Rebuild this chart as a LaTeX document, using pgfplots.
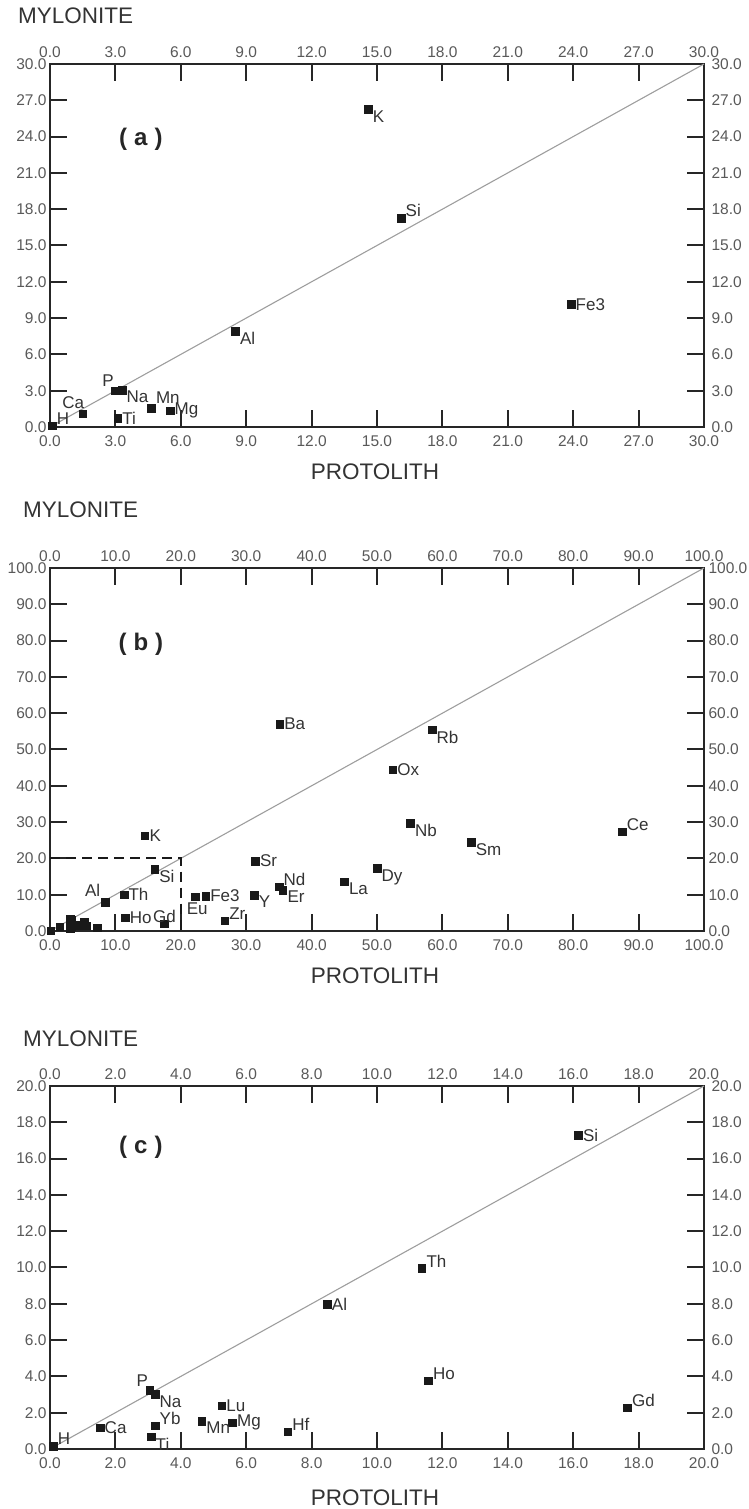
\documentclass[border=0pt]{standalone}
\usepackage{fontspec}
\setmainfont{Liberation Sans}
\usepackage{pgfplots}
\pgfplotsset{compat=1.18}

\pgfplotsset{
  panel/.style={
    scale only axis, width=654pt, height=363pt, clip=false,
    tick align=inside, major tick length=17pt,
    axis line style={line width=2pt, draw=black!85},
    every tick/.style={line width=2pt, draw=black!85},
    ticklabel style={font=\fontsize{15.5}{17}\selectfont, text=black!65},
    /pgf/number format/assume math mode=true,
    xticklabel style={/pgf/number format/fixed, /pgf/number format/fixed zerofill, /pgf/number format/precision=1},
    yticklabel style={/pgf/number format/fixed, /pgf/number format/fixed zerofill, /pgf/number format/precision=1},
    scaled ticks=false, anchor=south west,
  },
  lowerax/.style={panel, xticklabel style={yshift=-5pt}},
  upperax/.style={panel, xticklabel pos=upper, yticklabel pos=right,
    axis line style={draw=none}, major tick length=0pt,
    yticklabel style={xshift=4pt}, xticklabel style={yshift=3pt}},
  sq/.style={only marks, mark=square*, mark size=3.8pt,
    mark options={fill=black!90, draw=black!90}},
  pts/.style={sq, nodes near coords, point meta=explicit symbolic,
    every node near coord/.append style={anchor=#1, font=\fontsize{17}{19}\selectfont,
      text=black!80, inner xsep=4.5pt, inner ysep=1pt}},
  shift/.style 2 args={every node near coord/.append style={xshift=#1, yshift=#2}},
  diag/.style={draw=black!38, line width=1.1pt, no marks},
}

\tikzset{ttl/.style={font=\fontsize{22.5}{24}\selectfont, text=black!80, inner sep=0pt},
  plab/.style={font=\bfseries\fontsize{24}{26}\selectfont, text=black!85}}

\begin{document}
\begin{tikzpicture}
\path[use as bounding box] (0,0) rectangle (748pt,1509pt);

% ---------- panel (a)
\node[ttl, anchor=base west] at (18pt,1485pt) {MYLONITE};
\node[ttl, anchor=base] at (375pt,1029pt) {PROTOLITH};
\begin{axis}[lowerax, at={(50pt,1082pt)}, xmin=0, xmax=30, ymin=0, ymax=30,
  xtick={0,3,...,30}, ytick={0,3,...,30}]
\addplot[diag] coordinates {(0,0) (30,30)};
\addplot[pts=west] table[meta=lab] {
x y lab
3.1 0.75 Ti
5.5 1.35 Mg
23.9 10.15 Fe3
};
\addplot[pts=south west] table[meta=lab] {
x y lab
0.1 0.1 H
16.1 17.25 Si
};
\addplot[pts=south west, shift={0pt}{4pt}] table[meta=lab] {
x y lab
4.65 1.55 Mn
};
\addplot[pts=south east, shift={6pt}{4pt}] table[meta=lab] {
x y lab
1.5 1.1 Ca
};
\addplot[pts=south east, shift={3pt}{3pt}] table[meta=lab] {
x y lab
3.0 3.0 P
};
\addplot[pts=north west] table[meta=lab] {
x y lab
3.3 3.05 Na
8.5 7.9 Al
14.6 26.25 K
};
\node[plab] at (rel axis cs:0.139,0.793) {(\hspace{7pt}a\hspace{7pt})};
\end{axis}
\begin{axis}[upperax, at={(50pt,1082pt)}, xmin=0, xmax=30, ymin=0, ymax=30,
  xtick={0,3,...,30}, ytick={0,3,...,30}]
\end{axis}

% ---------- panel (b)
\node[ttl, anchor=base west] at (23pt,991pt) {MYLONITE};
\node[ttl, anchor=base] at (375pt,525pt) {PROTOLITH};
\begin{axis}[lowerax, at={(50pt,578pt)}, xmin=0, xmax=100, ymin=0, ymax=100,
  xtick={0,10,...,100}, ytick={0,10,...,100}]
\addplot[diag] coordinates {(0,0) (100,100)};
\addplot[black!90, line width=2pt, dash pattern=on 10pt off 6pt, no marks] coordinates {(0,20) (20,20) (20,0)};
\addplot[sq] table {
x y
0.1 0.1
1.5 1.15
3.05 3.2
3.2 3.0
3.2 1.3
3.1 0.7
4.65 1.55
5.25 2.4
5.6 1.45
7.25 0.95
};
\addplot[pts=south east, shift={0pt}{5pt}] table[meta=lab] {
x y lab
8.4 7.9 Al
};
\addplot[pts=west] table[meta=lab] {
x y lab
11.3 10.0 Th
11.5 3.7 Ho
14.5 26.2 K
23.8 9.6 Fe3
31.4 19.3 Sr
35.1 57.0 Ba
52.4 44.4 Ox
};
\addplot[pts=north west] table[meta=lab] {
x y lab
16.0 17.1 Si
31.2 9.9 Y
35.6 11.3 Er
45.0 13.6 La
50.0 17.3 Dy
55.1 29.7 Nb
64.4 24.4 Sm
58.4 55.4 Rb
};
\addplot[pts=south] table[meta=lab] {
x y lab
17.5 2.0 Gd
};
\addplot[pts=north, shift={2pt}{-5pt}] table[meta=lab] {
x y lab
22.2 9.4 Eu
};
\addplot[pts=south west] table[meta=lab] {
x y lab
26.7 2.8 Zr
35.0 12.2 Nd
87.5 27.4 Ce
};
\node[plab] at (rel axis cs:0.139,0.791) {(\hspace{7pt}b\hspace{7pt})};
\end{axis}
\begin{axis}[upperax, at={(50pt,578pt)}, xmin=0, xmax=100, ymin=0, ymax=100,
  xtick={0,10,...,100}, ytick={0,10,...,100}, yticklabel style={xshift=-3pt}]
\end{axis}

% ---------- panel (c)
\node[ttl, anchor=base west] at (23pt,462pt) {MYLONITE};
\node[ttl, anchor=base] at (375pt,4pt) {PROTOLITH};
\begin{axis}[lowerax, at={(50pt,60pt)}, xmin=0, xmax=20, ymin=0, ymax=20,
  xtick={0,2,...,20}, ytick={0,2,...,20}]
\addplot[diag] coordinates {(0,0) (20,20)};
\addplot[pts=south west] table[meta=lab] {
x y lab
0.1 0.17 H
3.21 1.28 Yb
7.27 0.96 Hf
11.37 9.96 Th
11.57 3.76 Ho
17.66 2.28 Gd
};
\addplot[pts=west] table[meta=lab] {
x y lab
1.53 1.17 Ca
5.25 2.39 Lu
5.58 1.45 Mg
8.48 7.99 Al
16.16 17.3 Si
};
\addplot[pts=south east, shift={3pt}{2pt}] table[meta=lab] {
x y lab
3.05 3.25 P
};
\addplot[pts=north west] table[meta=lab] {
x y lab
3.21 3.01 Na
3.09 0.68 Ti
4.64 1.54 Mn
};
\node[plab] at (rel axis cs:0.139,0.832) {(\hspace{7pt}c\hspace{7pt})};
\end{axis}
\begin{axis}[upperax, at={(50pt,60pt)}, xmin=0, xmax=20, ymin=0, ymax=20,
  xtick={0,2,...,20}, ytick={0,2,...,20}]
\end{axis}
\end{tikzpicture}
\end{document}
